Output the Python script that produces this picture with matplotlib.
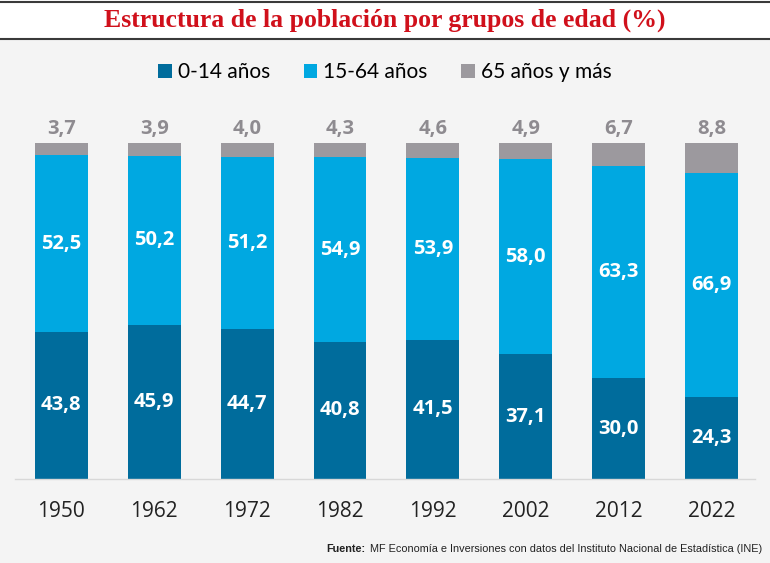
import matplotlib.pyplot as plt
from matplotlib.patches import Rectangle
from matplotlib.lines import Line2D

# data (%)
years = ["1950", "1962", "1972", "1982", "1992", "2002", "2012", "2022"]
age_0_14 = [43.8, 45.9, 44.7, 40.8, 41.5, 37.1, 30.0, 24.3]
age_15_64 = [52.5, 50.2, 51.2, 54.9, 53.9, 58.0, 63.3, 66.9]
age_65 = [3.7, 3.9, 4.0, 4.3, 4.6, 4.9, 6.7, 8.8]
series_names = ["0-14 años", "15-64 años", "65 años y más"]

c_dark = "#006c9c"
c_light = "#00a8e1"
c_gray = "#9c999e"
bg = "#f4f4f4"

def fmt(v):
    return f"{v:.1f}".replace(".", ",")

fig = plt.figure(figsize=(7.7, 5.63), dpi=100)
fig.patch.set_facecolor(bg)

# white title band with dark rules
fig.add_artist(Rectangle((0, 1 - 38 / 563), 1, 38 / 563, transform=fig.transFigure,
                         facecolor="white", edgecolor="none", zorder=0))
fig.add_artist(Line2D([0, 1], [1 - 2 / 563] * 2, transform=fig.transFigure, color="#3a3a3a", lw=1.5))
fig.add_artist(Line2D([0, 1], [1 - 38.5 / 563] * 2, transform=fig.transFigure, color="#3a3a3a", lw=1.5))

fig.text(0.5, 1 - 20 / 563, "Estructura de la población por grupos de edad (%)",
         ha="center", va="center", color="#d0101b", fontsize=18.5, fontweight="bold",
         family="Liberation Serif")

ax = fig.add_axes([15 / 770, 1 - 479 / 563, 740 / 770, 336 / 563])
ax.set_facecolor(bg)
x = list(range(len(years)))
w = 0.57
bottom2 = age_0_14
bottom3 = [a + b for a, b in zip(age_0_14, age_15_64)]
b1 = ax.bar(x, age_0_14, w, color=c_dark, label=series_names[0])
b2 = ax.bar(x, age_15_64, w, bottom=bottom2, color=c_light, label=series_names[1])
b3 = ax.bar(x, age_65, w, bottom=bottom3, color=c_gray, label=series_names[2])

# value labels
lab_font = dict(family="Open Sans", fontweight="bold", fontsize=14.5)
for i in x:
    ax.text(i, age_0_14[i] / 2, fmt(age_0_14[i]), ha="center", va="center", color="white", **lab_font)
    ax.text(i, bottom2[i] + age_15_64[i] / 2, fmt(age_15_64[i]), ha="center", va="center",
            color="white", **lab_font)
    ax.annotate(fmt(age_65[i]), (i, bottom3[i] + age_65[i]), xytext=(0, 3), textcoords="offset points",
                ha="center", va="bottom", color="#8e8b90", **lab_font)

ax.set_xlim(-0.5, 7.47)
ax.set_ylim(0, 100)
for s in ["top", "right", "left"]:
    ax.spines[s].set_visible(False)
ax.spines["bottom"].set_color("#d8d8d8")
ax.spines["bottom"].set_linewidth(1)
ax.set_yticks([])
ax.set_xticks(x)
ax.set_xticklabels(years, family="Open Sans", fontsize=15, color="#222222")
ax.tick_params(axis="x", length=0, pad=16)

fig.legend(handles=[b1, b2, b3], labels=series_names, loc="center", bbox_to_anchor=(0.5, 1 - 72 / 563),
           ncol=3, frameon=False, prop=dict(family="Lato", size=15),
           handlelength=0.65, handleheight=0.65, handletextpad=0.3, columnspacing=1.6)

# footer: bold "Fuente:" placed just left of the regular text
note = fig.text(1 - 8 / 770, 1 - 549 / 563,
                "MF Economía e Inversiones con datos del Instituto Nacional de Estadística (INE)",
                ha="right", va="center", fontsize=7.8, family="Liberation Sans", color="#222222")
ax.annotate("Fuente:", xy=(0, 0.5), xycoords=note, xytext=(-3, 0), textcoords="offset points",
            ha="right", va="center", fontsize=7.8, family="Liberation Sans", fontweight="bold",
            color="#222222", annotation_clip=False)

fig.savefig("out.png", dpi=100, facecolor=bg)
